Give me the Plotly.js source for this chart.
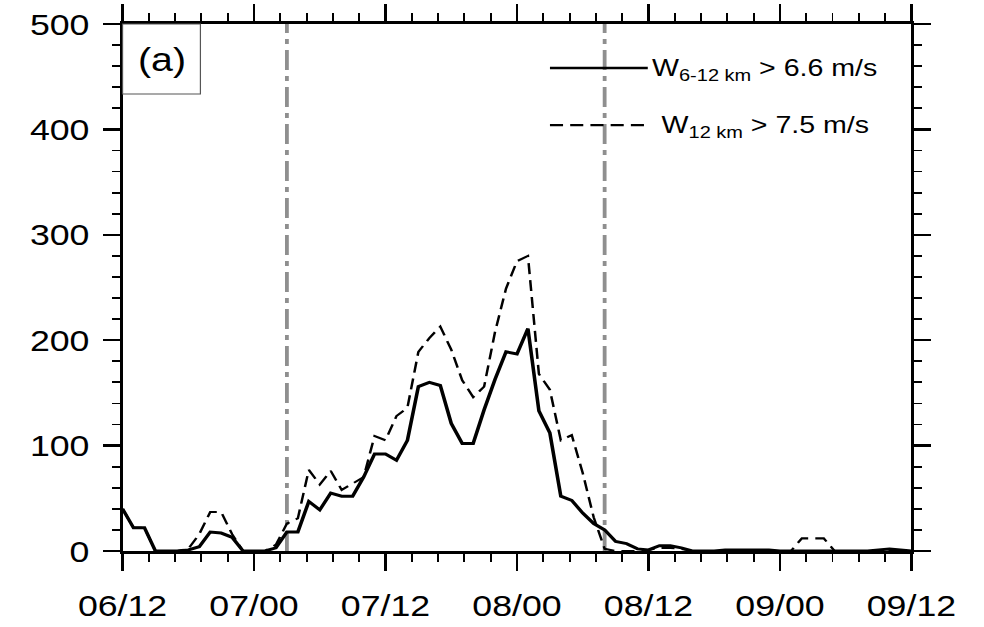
<!DOCTYPE html>
<html>
<head>
<meta charset="utf-8">
<script src="https://cdn.plot.ly/plotly-3.0.1.min.js"></script>
<style>
  html, body { margin: 0; padding: 0; background: #fff; overflow: hidden; }
  #wrap { width: 984px; height: 627px; overflow: hidden; }
  /* the figure is laid out narrower and widened horizontally as a whole */
  #chart { width: 827px; height: 627px; transform: scaleX(1.18984); transform-origin: 0 0; }
</style>
</head>
<body>
<div id="wrap"><div id="chart"></div></div>
<script>
// hourly counts, starting at day 06 12 UTC
const countDeep = [40, 22, 22, 0, 0, 0, 1, 4, 18, 17, 13, 0, 0, 0, 3, 18, 18, 47, 39, 55,
  52, 52, 70, 92, 92, 86, 105, 156, 160, 157, 121, 102, 102, 134, 163, 189, 187, 211, 133, 112,
  52, 48, 36, 26, 20, 9, 7, 2, 1, 5, 5, 3, 0, 0, 0, 1, 1, 1, 1, 1,
  0, 0, 0, 0, 0, 0, 0, 0, 0, 1, 2, 1, 0];
const count12km = [40, 22, 22, 0, 0, 0, 2, 16, 37, 37, 16, 0, 0, 0, 6, 26, 31, 77, 63, 76,
  58, 64, 70, 109, 105, 128, 136, 189, 202, 213, 191, 162, 146, 156, 208, 249, 275, 280, 168, 153,
  105, 110, 74, 32, 2, 0, 0, 0, 1, 3, 3, 2, 0, 0, 0, 0, 0, 0, 0, 0,
  0, 0, 12, 12, 12, 0, 0, 0, 0, 0, 0, 0, 0];
const hours = [];
for (let h = 0; h < countDeep.length; h++) hours.push(h);

const tickHours = [0, 12, 24, 36, 48, 60, 72];
const tickLabels = ['06/12', '07/00', '07/12', '08/00', '08/12', '09/00', '09/12'];
const markerHours = [15, 44];
const legendTexts = ['W<sub>6-12 km</sub> > 6.6 m/s', 'W<sub>12 km</sub> > 7.5 m/s'];
const panelLabel = '(a)';

const FONT = "'Liberation Sans', Arial, Helvetica, sans-serif";
const S = 1.18984;   // horizontal widening applied to the whole figure

const traces = [
  { x: hours, y: countDeep, type: 'scatter', mode: 'lines',
    line: { color: '#000', width: 3 }, hoverinfo: 'skip' },
  { x: hours, y: count12km, type: 'scatter', mode: 'lines',
    line: { color: '#000', width: 2.1, dash: '11px,6px' }, hoverinfo: 'skip' }
];

const shapes = markerHours.map(h => ({
  type: 'line', xref: 'x', yref: 'paper', x0: h, x1: h, y0: 0, y1: 1,
  line: { color: '#8f8f8f', width: 3.2, dash: '20px,6px,5px,6px' }, layer: 'below'
}));
// panel label box
shapes.push({ type: 'rect', xref: 'paper', yref: 'paper', x0: 0, x1: 0.0987, y0: 0.867, y1: 1,
  line: { color: '#555', width: 1 }, fillcolor: 'rgba(0,0,0,0)' });
// legend samples
shapes.push({ type: 'line', xref: 'paper', yref: 'paper', x0: 0.5418, x1: 0.6658, y0: 0.9165, y1: 0.9165,
  line: { color: '#000', width: 2.5 } });
shapes.push({ type: 'line', xref: 'paper', yref: 'paper', x0: 0.5418, x1: 0.6658, y0: 0.8083, y1: 0.8083,
  line: { color: '#000', width: 2.2, dash: '11px,6px' } });

const annotations = [
  { xref: 'paper', yref: 'paper', x: 0.0494, y: 0.9335, text: panelLabel, showarrow: false,
    xanchor: 'center', yanchor: 'middle', font: { family: FONT, size: 33, color: '#000' } },
  { xref: 'paper', yref: 'paper', x: 0.6685, y: 0.914, text: legendTexts[0], showarrow: false,
    xanchor: 'left', yanchor: 'middle', font: { family: FONT, size: 24, color: '#000' } },
  { xref: 'paper', yref: 'paper', x: 0.6795, y: 0.806, text: legendTexts[1], showarrow: false,
    xanchor: 'left', yanchor: 'middle', font: { family: FONT, size: 24, color: '#000' } }
];

const layout = {
  width: 827, height: 627,
  margin: { l: 122 / S, r: 72 / S, t: 24, b: 76, pad: 0 },
  paper_bgcolor: '#fff', plot_bgcolor: '#fff',
  showlegend: false,
  font: { family: FONT, color: '#000' },
  xaxis: {
    range: [0, 72], tickmode: 'array', tickvals: tickHours, ticktext: tickLabels,
    showgrid: false, zeroline: false,
    showline: true, linecolor: '#000', linewidth: 3, mirror: 'allticks',
    ticks: 'outside', ticklen: 17, tickwidth: 2.2, tickcolor: '#000',
    tickfont: { family: FONT, size: 30, color: '#000' }, ticklabelstandoff: 9,
    minor: { dtick: 2.4, tick0: 0, ticks: 'outside', ticklen: 8, tickwidth: 1.6, tickcolor: '#000', showgrid: false }
  },
  yaxis: {
    range: [0, 500], dtick: 100, tick0: 0,
    showgrid: false, zeroline: false,
    showline: true, linecolor: '#000', linewidth: 2.5, mirror: 'allticks',
    ticks: 'outside', ticklen: 17 / S, tickwidth: 2.5, tickcolor: '#000',
    tickfont: { family: FONT, size: 30, color: '#000' }, ticklabelstandoff: 5,
    minor: { dtick: 20, tick0: 0, ticks: 'outside', ticklen: 8 / S, tickwidth: 1.8, tickcolor: '#000', showgrid: false }
  },
  shapes: shapes,
  annotations: annotations
};

Plotly.newPlot('chart', traces, layout, { staticPlot: true, displayModeBar: false });
</script>
</body>
</html>
